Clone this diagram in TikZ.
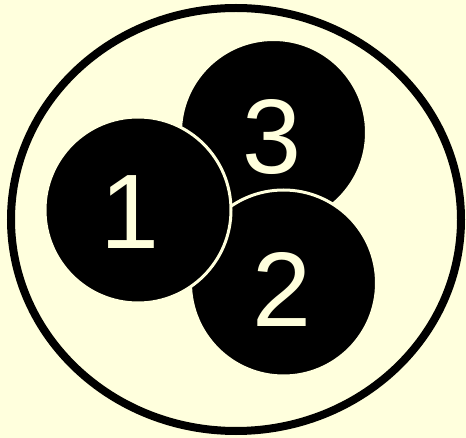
\documentclass[tikz,border=0pt]{standalone}
\usepackage{fontspec}
\setmainfont{Liberation Sans}
\usepackage{xcolor}
\usetikzlibrary{positioning}
\definecolor{cream}{RGB}{255,255,221}

\begin{document}
\begin{tikzpicture}[x=1pt, y=-1pt]
    \tikzset{
        ball/.style = {circle, fill=black, draw=cream, line width=3pt, minimum size=186pt, inner sep=0pt},
        digit/.style = {text=cream, font=\fontsize{106}{106}\selectfont, inner sep=0pt}
    }

    \fill [cream] (0,0) rectangle (466,438);
    \useasboundingbox (0,0) rectangle (466,438);
    \draw [line width=8pt] (236,219.5) ellipse [x radius=225, y radius=211.5];

    \node [ball] (c3) at (273.5,132.5) {};
    \node [ball] (c2) at (283.5,283) {};
    \node [ball] (c1) at (138,210) {};

    \node [digit] (n3) at (272,137) {3};
    \node [digit] (n2) at (282,289) {2};
    \node [digit] (n1) at (130,212) {1};
\end{tikzpicture}
\end{document}
